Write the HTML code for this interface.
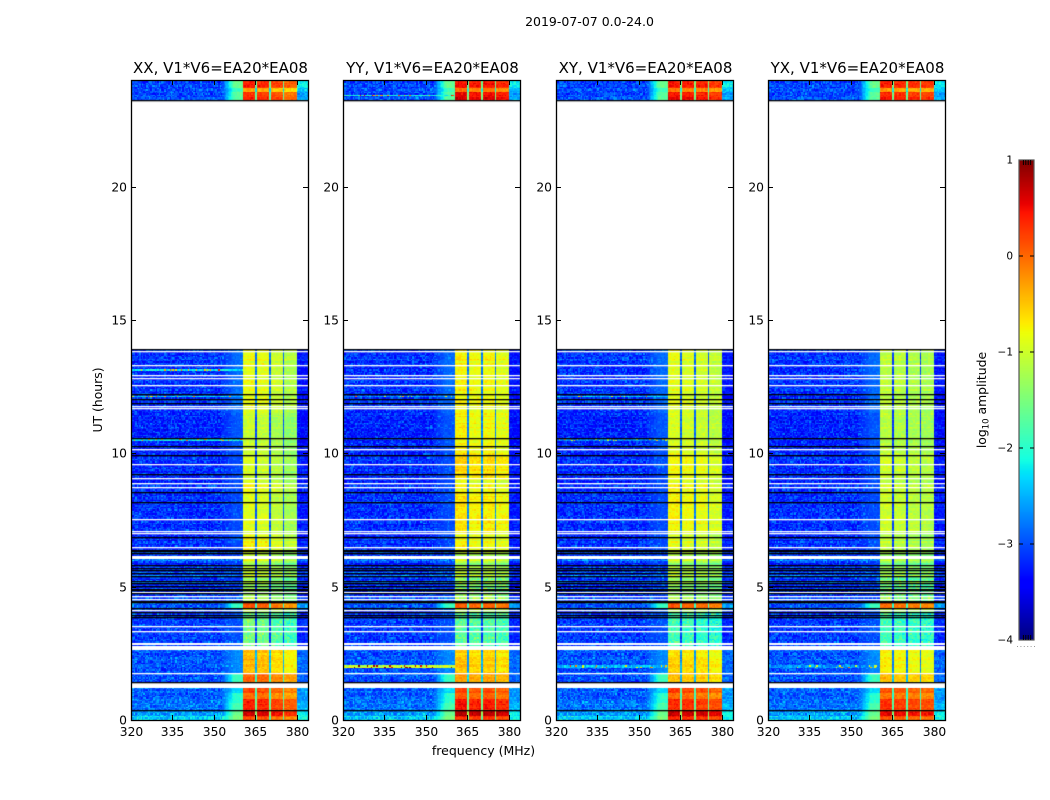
<!DOCTYPE html>
<html lang="en">
<head>
<meta charset="utf-8">
<title>2019-07-07 0.0-24.0</title>
<style>
html,body{margin:0;padding:0;background:#fff;}
#figure{position:relative;width:1050px;height:800px;overflow:hidden;background:#fff;font-family:"DejaVu Sans","Liberation Sans",sans-serif;}
canvas{position:absolute;display:block;}
svg{position:absolute;left:0;top:0;}
text{fill:#000;font-family:"DejaVu Sans","Liberation Sans",sans-serif;}
</style>
</head>
<body>
<div id="figure">
<svg id="overlay" width="1050" height="800" viewBox="0 0 1050 800">
<text x="589.5" y="26" font-size="12.5" text-anchor="middle">2019-07-07 0.0-24.0</text>
<text x="483.5" y="755" font-size="12.5" text-anchor="middle">frequency (MHz)</text>
<text transform="translate(102,400) rotate(-90)" font-size="12.4" text-anchor="middle">UT (hours)</text>
<text transform="translate(986,400) rotate(-90)" font-size="12.4" text-anchor="middle">log<tspan font-size="8.5" dy="2.5">10</tspan><tspan dy="-2.5"> amplitude</tspan></text>
</svg>
</div>
<script>
// Axis tick values
const freqTicks = [320, 335, 350, 365, 380];
const hourTicks = [0, 5, 10, 15, 20];
const colorTicks = [1, 0, -1, -2, -3, -4];

// Polarisation panels
const panelNames = ['XX', 'YY', 'XY', 'YX'];

// Start hour of each observing block (final entry closes the last block)
const blockHours = [0, 0.15, 0.37, 0.65, 0.8, 1.0, 1.2, 1.75, 2.2, 2.7, 4.0, 4.17, 4.4, 5.4, 6.3, 7.0, 8.5, 9.0, 10.0, 11.5, 13.93, 23.25, 23.55, 23.72, 24];

// Log10 amplitude of the 360-380 MHz band in each block, by panel
const xxBandLevels = [0.2, 0.65, 0.35, 0.4, 0.05, 0.2, 0.05, -0.45, -0.45, -1.55, -1.0, 0.1, -1.3, -1.15, -0.8, -0.95, -0.85, -1.0, -1.0, -0.85, -4, 0.3, -0.3, 0.4];
const yyBandLevels = [0.3, 0.75, 0.4, 0.4, 0.1, 0.15, -0.3, -0.55, -0.6, -1.75, -1.1, 0.05, -1.45, -1.25, -0.85, -0.75, -0.85, -0.65, -0.75, -0.8, -4, 0.5, -0.1, 0.45];
const xyBandLevels = [0.4, 0.7, 0.3, 0.35, 0.05, 0.25, -0.45, -0.55, -0.65, -1.85, -1.1, 0.1, -1.35, -1.25, -0.95, -0.8, -0.8, -0.8, -0.9, -0.9, -4, 0.45, -0.1, 0.45];
const yxBandLevels = [0.15, 0.55, 0.25, 0.3, 0, 0.15, -0.45, -0.75, -0.75, -1.85, -1.15, 0, -1.55, -1.4, -1.15, -1.05, -1.05, -1.05, -1.1, -1.1, -4, 0.35, -0.25, 0.4];

// Level offset of the four sub-bands between the notches, by panel
const xxSubbandOffsets = [0, -0.05, -0.2, -0.35];
const yySubbandOffsets = [0.05, -0.05, 0, -0.1];
const xySubbandOffsets = [0, -0.05, -0.1, -0.2];
const yxSubbandOffsets = [0, -0.05, -0.1, -0.15];

// Sub-band limits and notch centres in MHz
const subbandEdges = [360.5, 365, 370, 375, 380];
const notchCentres = [365.25, 370.25, 375.25];

// Per-block levels for the regions outside the band
const backgroundLevels = [-2.35, -2.65, -2.85, -2.85, -2.9, -2.9, -3.0, -3.0, -3.0, -3.1, -3.1, -2.95, -3.15, -3.15, -3.2, -3.2, -3.2, -3.2, -3.2, -3.15, -4, -3.05, -3.0, -3.05];
const rampLevels = [-1.5, -1.6, -1.8, -2.0, -2.0, -2.3, -1.9, -2.7, -2.7, -3.0, -2.9, -1.9, -3.1, -3.1, -3.0, -3.0, -3.0, -3.0, -2.95, -2.85, -4, -1.7, -1.9, -1.6];
const edgeLevels = [-2.1, -2.2, -2.5, -2.6, -2.6, -2.6, -2.9, -2.9, -2.9, -3.2, -3.0, -2.6, -3.25, -3.25, -3.3, -3.3, -3.3, -3.3, -3.3, -3.3, -4, -2.6, -2.4, -2.2];

// How strongly individual integrations scatter within each block
const rowScatter = [0.2, 0.2, 0.2, 0.2, 0.2, 0.2, 0.2, 0.2, 0.2, 0.2, 0.5, 0.2, 0.9, 0.8, 0.5, 0.3, 0.4, 0.3, 0.3, 0.3, 0, 0.2, 0.2, 0.2];

// Hours of flagged (white) and zero (black) integrations, common to all panels
const whiteRowHours = [13.85, 13.31, 12.92, 12.83, 12.57, 11.79, 11.70, 10.16, 9.60, 9.06, 8.88, 8.75, 7.54, 7.10, 7.00, 6.48, 4.80, 4.65, 4.53, 4.11, 3.54, 3.33, 1.77];
const blackRowHours = [23.25, 13.90, 12.24, 12.05, 11.88, 10.57, 10.27, 9.94, 9.21, 8.54, 8.16, 6.85, 6.36, 6.32, 6.28, 5.80, 5.71, 5.62, 5.52, 5.40, 5.22, 5.12, 5.02, 4.92, 4.87, 4.75, 4.47, 4.42, 4.19, 4.04, 3.94, 3.85, 1.41, 0.39];

// Hour ranges with no data at all
const gapStarts = [13.93, 6.03, 2.82, 2.64, 1.20];
const gapEnds = [23.25, 6.15, 2.90, 2.78, 1.38];

// Narrow-band interference rows: hour and level, by panel
const xxStripeHours = [13.12, 12.12, 10.49];
const xxStripeLevels = [-2.2, -2.3, -2.2];
const yyStripeHours = [12.12, 2.0, 23.42];
const yyStripeLevels = [-2.6, -1.0, -2.0];
const xyStripeHours = [12.12, 10.49, 2.0];
const xyStripeLevels = [-2.4, -2.7, -2.4];
const yxStripeHours = [2.0];
const yxStripeLevels = [-2.6];

// Short hand-typed grain table standing in for the per-cell receiver noise
const grain = [0.12, -0.2, 0.05, 0.31, -0.08, -0.26, 0.18, 0.02, -0.14, 0.44, -0.05, -0.3, 0.09, 0.22, -0.17, 0.01, 0.27, -0.22, -0.03, 0.15, -0.35, 0.07, 0.38, -0.11, -0.19, 0.24, 0.0, -0.28, 0.13, 0.33, -0.07, -0.15, 0.2, -0.24, 0.04, 0.52, -0.12, -0.33, 0.1, 0.17, -0.02, -0.21, 0.29, 0.06, -0.16, 0.11, -0.27, 0.36, -0.09, 0.03, -0.18, 0.23, -0.04];

// Jet colormap anchors
const jetRedAt = [0, 0.35, 0.66, 0.89, 1];
const jetRed = [0, 0, 1, 1, 0.5];
const jetGreenAt = [0, 0.125, 0.375, 0.64, 0.91, 1];
const jetGreen = [0, 0, 1, 1, 0, 0];
const jetBlueAt = [0, 0.11, 0.34, 0.65, 1];
const jetBlue = [0.5, 1, 1, 0, 0];

const panelBandLevels = [xxBandLevels, yyBandLevels, xyBandLevels, yxBandLevels];
const panelSubbandOffsets = [xxSubbandOffsets, yySubbandOffsets, xySubbandOffsets, yxSubbandOffsets];
const panelStripeHours = [xxStripeHours, yyStripeHours, xyStripeHours, yxStripeHours];
const panelStripeLevels = [xxStripeLevels, yyStripeLevels, xyStripeLevels, yxStripeLevels];

const plotTop = 80, plotBottom = 720, plotWidth = 177;
const freqMin = 320, freqMax = 384, hourMin = 0, hourMax = 24;
const colorMin = -4, colorMax = 1;
const channelWidth = 0.5, integration = 0.05;

function panelLeft(i) { return 131 + i * 212.33; }
function xScale(freq) { return (freq - freqMin) / (freqMax - freqMin) * plotWidth; }
function yScale(hour) { return plotBottom - (hour - hourMin) / (hourMax - hourMin) * (plotBottom - plotTop); }
function colorY(level) { return 160 + (colorMax - level) / (colorMax - colorMin) * 480; }

function interp(xs, ys, x) {
  for (let i = 1; i < xs.length; i++) {
    if (x <= xs[i]) return ys[i - 1] + (ys[i] - ys[i - 1]) * (x - xs[i - 1]) / (xs[i] - xs[i - 1]);
  }
  return ys[ys.length - 1];
}
function jetColor(level) {
  const f = Math.max(0, Math.min(1, (level - colorMin) / (colorMax - colorMin)));
  const r = Math.round(255 * interp(jetRedAt, jetRed, f));
  const g = Math.round(255 * interp(jetGreenAt, jetGreen, f));
  const b = Math.round(255 * interp(jetBlueAt, jetBlue, f));
  return 'rgb(' + r + ',' + g + ',' + b + ')';
}
function blockIndex(hour) {
  for (let i = blockHours.length - 2; i >= 0; i--) {
    if (hour >= blockHours[i]) return i;
  }
  return 0;
}
function grainAt(a, b, c) {
  const mix = (Math.imul(a + 1, 73856093) ^ Math.imul(b + 1, 19349663) ^ Math.imul(c + 1, 83492791)) >>> 0;
  const folded = ((mix >>> 7) ^ mix) >>> 0;
  return grain[folded % grain.length];
}
function cellLevel(panel, freq, hour, col, row) {
  const b = blockIndex(hour);
  const band = panelBandLevels[panel][b];
  const bg = backgroundLevels[b];
  const n1 = grainAt(col, row, panel);
  const n2 = grainAt(0, row, 9) * rowScatter[b];
  if (freq >= subbandEdges[0] && freq < subbandEdges[4]) {
    for (const c of notchCentres) {
      if (Math.abs(freq - c) <= 0.2) return Math.max(bg, band - 2.0) + n1 * 0.4;
    }
    let s = 0;
    while (s < 3 && freq >= subbandEdges[s + 1]) s++;
    const spread = band < -1.4 ? 0.9 : 0.4;
    return band + panelSubbandOffsets[panel][s] + n1 * spread + n2;
  }
  if (freq >= subbandEdges[4]) return edgeLevels[b] + n1 * 0.6 + n2;
  let base = bg + n1 * 1.0 + n2;
  const hours = panelStripeHours[panel];
  for (let i = 0; i < hours.length; i++) {
    if (Math.abs(hour - hours[i]) < integration * 0.75) {
      return panelStripeLevels[panel][i] + (n1 > 0.3 ? n1 * 5 : n1);
    }
  }
  if (freq >= 353) {
    const t = (freq - 353) / (subbandEdges[0] - 353);
    const ramp = bg + (rampLevels[b] - bg) * Math.min(1, t * 1.7);
    base = Math.max(base, ramp + n1 * 0.3);
  }
  return base;
}

function drawHeatmap(panel) {
  const left = panelLeft(panel);
  const cv = document.createElement('canvas');
  
  
  cv.width = plotWidth;
  cv.height = plotBottom - plotTop;
  cv.style.left = Math.round(left) + 'px';
  cv.style.top = plotTop + 'px';
  const ctx = cv.getContext('2d');
  ctx.fillStyle = '#fff';
  ctx.fillRect(0, 0, cv.width, cv.height);
  const cols = Math.round((freqMax - freqMin) / channelWidth);
  const rows = Math.round((hourMax - hourMin) / integration);
  for (let c = 0; c < cols; c++) {
    const f = freqMin + c * channelWidth;
    const x0 = Math.round(xScale(f)), x1 = Math.round(xScale(f + channelWidth));
    for (let r = 0; r < rows; r++) {
      const h = hourMin + r * integration;
      const y1 = Math.round(yScale(h)) - plotTop, y0 = Math.round(yScale(h + integration)) - plotTop;
      ctx.fillStyle = jetColor(cellLevel(panel, f + channelWidth / 2, h + integration / 2, c, r));
      ctx.fillRect(x0, y0, x1 - x0, y1 - y0);
    }
  }
  ctx.fillStyle = '#fff';
  for (let i = 0; i < gapStarts.length; i++) {
    const y0 = Math.round(yScale(gapEnds[i])) - plotTop, y1 = Math.round(yScale(gapStarts[i])) - plotTop;
    ctx.fillRect(0, y0, plotWidth, y1 - y0);
  }
  for (const h of whiteRowHours) ctx.fillRect(0, Math.round(yScale(h)) - plotTop, plotWidth, 1.3);
  ctx.fillStyle = '#000';
  for (const h of blackRowHours) ctx.fillRect(0, Math.round(yScale(h)) - plotTop, plotWidth, 1.3);
  document.getElementById('figure').insertBefore(cv, document.getElementById('overlay'));
}

const SVGNS = 'http://www.w3.org/2000/svg';
const overlay = document.getElementById('overlay');
function svgLine(x1, y1, x2, y2, color) {
  const l = document.createElementNS(SVGNS, 'line');
  l.setAttribute('x1', x1);
  l.setAttribute('y1', y1);
  l.setAttribute('x2', x2);
  l.setAttribute('y2', y2);
  l.setAttribute('stroke', color || '#000');
  l.setAttribute('stroke-width', '1');
  overlay.appendChild(l);
  return l;
}
function svgText(x, y, size, anchor, str) {
  const t = document.createElementNS(SVGNS, 'text');
  t.setAttribute('x', x);
  t.setAttribute('y', y);
  t.setAttribute('font-size', size);
  t.setAttribute('text-anchor', anchor);
  t.textContent = str;
  overlay.appendChild(t);
  return t;
}

function drawAxes(panel) {
  const left = Math.round(panelLeft(panel));
  const name = panelNames[panel].toLowerCase();
  const box = document.createElementNS(SVGNS, 'rect');
  
  
  box.setAttribute('x', left + 0.5);
  box.setAttribute('y', plotTop + 0.5);
  box.setAttribute('width', plotWidth);
  box.setAttribute('height', plotBottom - plotTop);
  box.setAttribute('fill', 'none');
  box.setAttribute('stroke', '#000');
  box.setAttribute('stroke-width', '1.3');
  overlay.appendChild(box);

  const title = svgText(left + plotWidth / 2 + 1, 73, 15, 'middle', panelNames[panel] + ', V1*V6=EA20*EA08');
  
  

  for (const v of freqTicks) {
    const x = Math.round(left + xScale(v)) + 0.5;
    const bottomTick = svgLine(x, plotBottom, x, plotBottom - 5);
    
    
    const topTick = svgLine(x, plotTop, x, plotTop + 5);
    
    
    const label = svgText(x, 736, 12.3, 'middle', String(v));
    
    
  }
  for (const v of hourTicks) {
    const y = Math.round(yScale(v)) + 0.5;
    const leftTick = svgLine(left, y, left + 5, y);
    
    
    const rightTick = svgLine(left + plotWidth, y, left + plotWidth - 5, y);
    
    
    const label = svgText(left - 4, y + 4, 12.3, 'end', String(v));
    
    
  }
}

function drawColorbar() {
  const cv = document.createElement('canvas');
  
  
  cv.width = 15;
  cv.height = 480;
  cv.style.left = '1019px';
  cv.style.top = '160px';
  const ctx = cv.getContext('2d');
  for (let y = 0; y < 480; y++) {
    ctx.fillStyle = jetColor(colorMax - (y + 0.5) / 480 * (colorMax - colorMin));
    ctx.fillRect(0, y, 15, 1);
  }
  document.getElementById('figure').insertBefore(cv, overlay);

  const frame = document.createElementNS(SVGNS, 'rect');
  
  
  frame.setAttribute('x', 1019);
  frame.setAttribute('y', 160);
  frame.setAttribute('width', 15);
  frame.setAttribute('height', 480);
  frame.setAttribute('fill', 'none');
  frame.setAttribute('stroke', '#555');
  frame.setAttribute('stroke-width', '1.2');
  overlay.appendChild(frame);

  for (const v of colorTicks) {
    const y = colorY(v);
    const label = svgText(1013, y + 3.5, 10.5, 'end', String(v).replace('-', '\u2212'));
    
    
    if (v !== colorMax && v !== colorMin) {
      const tickL = svgLine(1019, y, 1023, y);
      
      
      const tickR = svgLine(1034, y, 1030, y);
      
      
    }
  }
  for (let i = 1; i < 5; i++) {
    const x = 1021 + i * 2.4;
    const topMinor = svgLine(x, 160, x, 165);
    
    
    const bottomMinor = svgLine(x, 640, x, 635);
    
    
  }
  const dots = svgLine(1017, 646.5, 1035, 646.5, '#999');
  dots.setAttribute('stroke-dasharray', '1 2.4');
  
  
}

for (let p = 0; p < panelNames.length; p++) {
  drawHeatmap(p);
  drawAxes(p);
}
drawColorbar();
</script>
</body>
</html>
